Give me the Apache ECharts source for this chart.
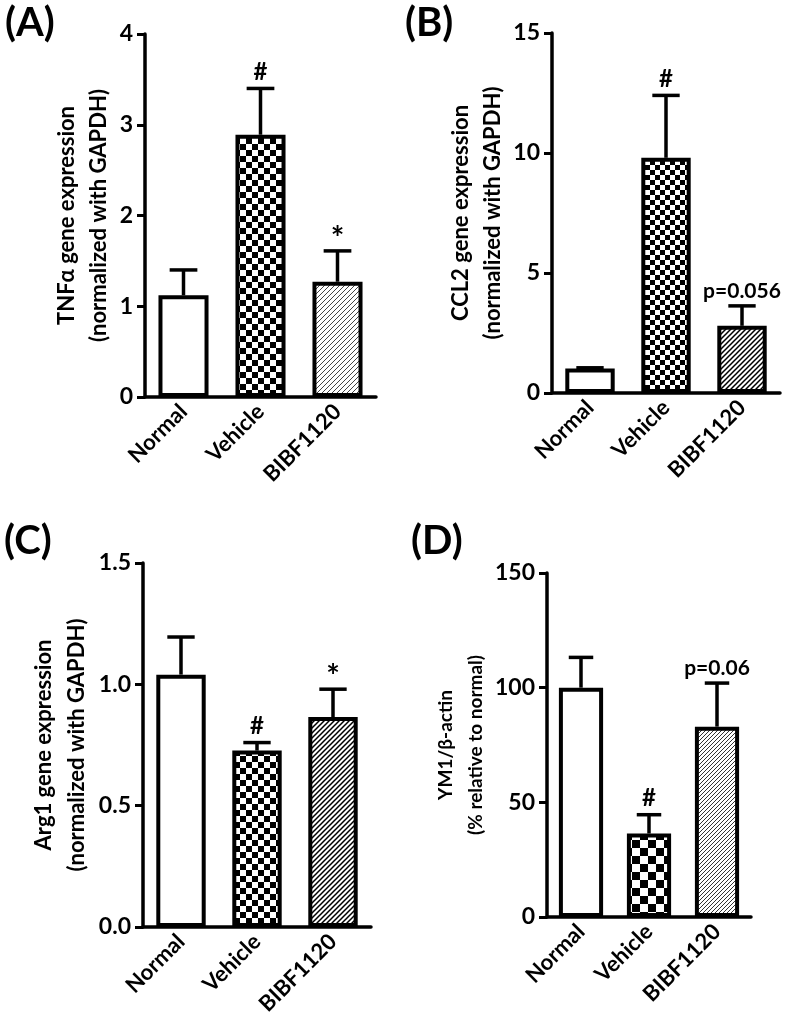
<!DOCTYPE html>
<html>
<head>
<meta charset="utf-8">
<script src="https://cdn.jsdelivr.net/npm/echarts@6/dist/echarts.min.js"></script>
<style>
html, body { margin: 0; padding: 0; background: #fff; }
#main { width: 787px; height: 1028px; }
</style>
</head>
<body>
<div id="main"></div>
<script>
// data
var groups = ["Normal", "Vehicle", "BIBF1120"];

var tnfMean = [1.12, 2.89, 1.27];
var tnfErr = [0.28, 0.51, 0.34];
var tnfMarks = ["", "#", "*"];
var tnfTicks = [0, 4, 1];

var ccl2Mean = [1.02, 9.8, 2.8];
var ccl2Err = [0.03, 2.6, 0.83];
var ccl2Marks = ["", "#", "p=0.056"];
var ccl2Ticks = [0, 15, 5];

var arg1Mean = [1.04, 0.727, 0.865];
var arg1Err = [0.155, 0.033, 0.115];
var arg1Marks = ["", "#", "*"];
var arg1Ticks = [0, 1.5, 0.5];

var ym1Mean = [100, 36.4, 83];
var ym1Err = [13.2, 8.2, 19];
var ym1Marks = ["", "#", "p=0.06"];
var ym1Ticks = [0, 150, 50];

var FONT = "Lato";

function checker(s) {
    var c = document.createElement("canvas");
    c.width = 2 * s; c.height = 2 * s;
    var g = c.getContext("2d");
    g.fillStyle = "#fff";
    g.fillRect(0, 0, 2 * s, 2 * s);
    g.fillStyle = "#000";
    g.fillRect(0, 0, s, s);
    g.fillRect(s, s, s, s);
    return { image: c, repeat: "repeat" };
}

function hatch(s, w, col) {
    var c = document.createElement("canvas");
    c.width = s; c.height = s;
    var g = c.getContext("2d");
    g.fillStyle = "#fff";
    g.fillRect(0, 0, s, s);
    g.strokeStyle = col;
    g.lineWidth = w;
    g.beginPath();
    g.moveTo(-1, s + 1); g.lineTo(s + 1, -1);
    g.moveTo(-1, 1); g.lineTo(1, -1);
    g.moveTo(s - 1, s + 1); g.lineTo(s + 1, s - 1);
    g.stroke();
    return { image: c, repeat: "repeat" };
}

var grids = [], xAxes = [], yAxes = [], series = [];

function addPanel(k, box, yName, ticks, mean, err, marks, fills, nameCfg) {
    grids.push({ left: box[0], top: box[1], width: box[2], height: box[3] });
    xAxes.push({
        type: "category", gridIndex: k, data: groups,
        axisLine: { lineStyle: { color: "#000", width: 3.5 } },
        axisTick: { alignWithLabel: true, length: 8, lineStyle: { color: "#000", width: 3 } },
        axisLabel: { interval: 0, rotate: 45, margin: 11, color: "#000",
            fontFamily: FONT, fontWeight: "bold", fontSize: 22 }
    });
    yAxes.push({
        type: "value", gridIndex: k, min: ticks[0], max: ticks[1], interval: ticks[2],
        name: yName, nameLocation: "middle", nameGap: nameCfg.gap,
        nameTextStyle: { color: "#000", fontFamily: FONT, fontWeight: "bold",
            fontSize: nameCfg.size, lineHeight: nameCfg.lh },
        axisLine: { show: true, lineStyle: { color: "#000", width: 3.5 } },
        axisTick: { show: true, length: 8, lineStyle: { color: "#000", width: 3 } },
        splitLine: { show: false },
        axisLabel: { margin: 12, color: "#000", fontFamily: FONT, fontWeight: "bold", fontSize: 23,
            formatter: function (v) { return ticks[2] < 1 ? v.toFixed(1) : String(v); } }
    });
    series.push({
        type: "bar", xAxisIndex: k, yAxisIndex: k, barWidth: "65%", z: 2,
        data: mean.map(function (v, i) {
            return { value: v, itemStyle: { color: fills[i], borderColor: "#000", borderWidth: 4 } };
        })
    });
    series.push({
        type: "custom", xAxisIndex: k, yAxisIndex: k, z: 3,
        data: mean.map(function (v, i) { return [i, v, err[i]]; }),
        renderItem: function (params, api) {
            var i = api.value(0), m = api.value(1), e = api.value(2);
            var p0 = api.coord([i, m]);
            var p1 = api.coord([i, m + e]);
            var half = api.size([1, 0])[0] * 0.18;
            var kids = [
                { type: "line", shape: { x1: p0[0], y1: p0[1], x2: p1[0], y2: p1[1] },
                  style: { stroke: "#000", lineWidth: 3.5 } },
                { type: "line", shape: { x1: p1[0] - half, y1: p1[1], x2: p1[0] + half, y2: p1[1] },
                  style: { stroke: "#000", lineWidth: 3.5 } }
            ];
            var t = marks[params.dataIndex];
            if (t) {
                var star = t === "*";
                var small = t.length > 1;
                kids.push({
                    type: "text",
                    x: p1[0], y: p1[1] - (star ? -5 : 4),
                    style: { text: t, fill: "#000", align: "center", verticalAlign: "bottom",
                        font: "bold " + (star ? 32 : small ? 21 : 24) + "px " + FONT }
                });
            }
            return { type: "group", children: kids };
        }
    });
}

addPanel(0, [145, 34, 231, 363], "TNF\u03b1 gene expression\n(normalized with GAPDH)", tnfTicks,
    tnfMean, tnfErr, tnfMarks, ["#fff", checker(6), hatch(5, 1, "#444")], { gap: 30, size: 22, lh: 32 });
addPanel(1, [552, 33, 228, 360], "CCL2 gene expression\n(normalized with GAPDH)", ccl2Ticks,
    ccl2Mean, ccl2Err, ccl2Marks, ["#fff", checker(5), hatch(5, 1.5, "#000")], { gap: 43, size: 22, lh: 32 });
addPanel(2, [143, 563, 228, 364], "Arg1 gene expression\n(normalized with GAPDH)", arg1Ticks,
    arg1Mean, arg1Err, arg1Marks, ["#fff", checker(6), hatch(5, 1.5, "#000")], { gap: 50, size: 22, lh: 33 });
addPanel(3, [547, 573, 204, 344], "YM1/\u03b2-actin\n(% relative to normal)", ym1Ticks,
    ym1Mean, ym1Err, ym1Marks, ["#fff", checker(8), hatch(4, 1, "#333")], { gap: 56, size: 19, lh: 30 });

var letters = [["(A)", 5, 3], ["(B)", 405, 3], ["(C)", 4, 521], ["(D)", 411, 521]];

var chart = echarts.init(document.getElementById("main"), null, { renderer: "canvas" });
chart.setOption({
    animation: false,
    backgroundColor: "#fff",
    grid: grids,
    xAxis: xAxes,
    yAxis: yAxes,
    series: series,
    graphic: letters.map(function (l) {
        return { type: "text", left: l[1], top: l[2],
            style: { text: l[0], fill: "#000", font: "bold 40px " + FONT } };
    })
});
</script>
</body>
</html>
